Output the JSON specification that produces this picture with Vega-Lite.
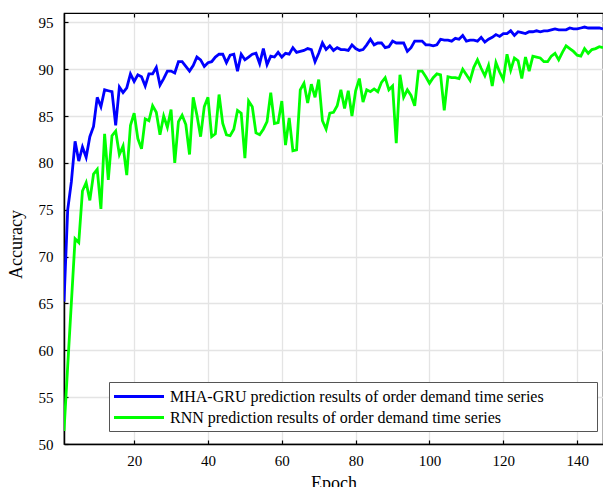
{
  "$schema": "https://vega.github.io/schema/vega-lite/v6.json",
  "width": 539,
  "height": 431,
  "autosize": {"type": "none"},
  "padding": {"left": 64, "top": 13, "right": 0, "bottom": 43},
  "background": "white",
  "config": {
    "font": "Liberation Serif",
    "view": {"stroke": "black", "strokeWidth": 1.2},
    "axis": {
      "domainColor": "black",
      "domainWidth": 1.5,
      "tickColor": "black",
      "tickWidth": 1.2,
      "tickSize": -4,
      "gridColor": "#e4e4e4",
      "gridWidth": 1.3,
      "labelFont": "Liberation Serif",
      "labelFontSize": 15,
      "labelColor": "black",
      "titleFont": "Liberation Serif",
      "titleFontSize": 18,
      "titleFontWeight": "normal",
      "titleColor": "black"
    }
  },
  "data": {
    "values": [
      {"e":1,"m":65.2,"r":51.4},{"e":2,"m":75.0,"r":58.3},{"e":3,"m":78.0,"r":65.1},{"e":4,"m":82.3,"r":71.9},{"e":5,"m":80.2,"r":71.5},
      {"e":6,"m":81.7,"r":77.0},{"e":7,"m":80.6,"r":77.9},{"e":8,"m":82.8,"r":76.0},{"e":9,"m":83.9,"r":78.8},{"e":10,"m":87.0,"r":79.3},
      {"e":11,"m":86.0,"r":75.1},{"e":12,"m":87.8,"r":83.1},{"e":13,"m":87.7,"r":78.2},{"e":14,"m":87.6,"r":82.9},{"e":15,"m":84.0,"r":83.4},
      {"e":16,"m":88.1,"r":80.9},{"e":17,"m":87.5,"r":81.8},{"e":18,"m":88.0,"r":78.7},{"e":19,"m":89.5,"r":84.0},{"e":20,"m":88.7,"r":85.3},
      {"e":21,"m":89.4,"r":82.6},{"e":22,"m":89.2,"r":81.5},{"e":23,"m":88.2,"r":84.7},{"e":24,"m":89.5,"r":84.5},{"e":25,"m":89.5,"r":86.1},
      {"e":26,"m":90.2,"r":85.4},{"e":27,"m":88.3,"r":83.0},{"e":28,"m":89.0,"r":85.0},{"e":29,"m":89.8,"r":83.8},{"e":30,"m":89.8,"r":85.7},
      {"e":31,"m":89.6,"r":80.0},{"e":32,"m":90.8,"r":84.4},{"e":33,"m":90.8,"r":85.1},{"e":34,"m":90.3,"r":84.1},{"e":35,"m":89.8,"r":80.9},
      {"e":36,"m":90.4,"r":87.0},{"e":37,"m":91.3,"r":85.1},{"e":38,"m":91.0,"r":82.8},{"e":39,"m":90.3,"r":86.0},{"e":40,"m":90.7,"r":87.0},
      {"e":41,"m":90.8,"r":82.8},{"e":42,"m":91.3,"r":83.1},{"e":43,"m":91.6,"r":87.3},{"e":44,"m":91.6,"r":84.2},{"e":45,"m":90.7,"r":83.0},
      {"e":46,"m":91.5,"r":82.9},{"e":47,"m":91.6,"r":83.6},{"e":48,"m":89.8,"r":85.6},{"e":49,"m":91.6,"r":85.3},{"e":50,"m":91.0,"r":80.5},
      {"e":51,"m":91.3,"r":86.6},{"e":52,"m":91.6,"r":86.0},{"e":53,"m":91.7,"r":83.2},{"e":54,"m":90.6,"r":83.0},{"e":55,"m":92.2,"r":83.6},
      {"e":56,"m":90.5,"r":84.4},{"e":57,"m":91.4,"r":87.5},{"e":58,"m":91.3,"r":84.2},{"e":59,"m":91.8,"r":84.3},{"e":60,"m":91.3,"r":86.6},
      {"e":61,"m":91.7,"r":81.9},{"e":62,"m":91.6,"r":84.8},{"e":63,"m":92.3,"r":81.3},{"e":64,"m":91.8,"r":81.4},{"e":65,"m":91.9,"r":87.8},
      {"e":66,"m":92.0,"r":88.5},{"e":67,"m":92.2,"r":86.4},{"e":68,"m":92.1,"r":88.4},{"e":69,"m":90.8,"r":87.0},{"e":70,"m":91.7,"r":88.9},
      {"e":71,"m":92.8,"r":84.5},{"e":72,"m":92.1,"r":83.6},{"e":73,"m":92.5,"r":85.3},{"e":74,"m":92.0,"r":85.4},{"e":75,"m":92.3,"r":86.1},
      {"e":76,"m":92.1,"r":87.8},{"e":77,"m":92.1,"r":85.8},{"e":78,"m":92.0,"r":87.7},{"e":79,"m":92.6,"r":85.0},{"e":80,"m":92.2,"r":87.7},
      {"e":81,"m":92.0,"r":89.0},{"e":82,"m":92.1,"r":86.5},{"e":83,"m":92.6,"r":87.8},{"e":84,"m":93.2,"r":87.6},{"e":85,"m":92.6,"r":87.9},
      {"e":86,"m":92.8,"r":87.6},{"e":87,"m":92.8,"r":88.6},{"e":88,"m":92.3,"r":89.1},{"e":89,"m":92.4,"r":87.8},{"e":90,"m":93.0,"r":88.2},
      {"e":91,"m":92.8,"r":82.1},{"e":92,"m":92.8,"r":89.4},{"e":93,"m":92.8,"r":87.0},{"e":94,"m":91.9,"r":87.8},{"e":95,"m":92.3,"r":87.2},
      {"e":96,"m":93.0,"r":86.1},{"e":97,"m":93.0,"r":89.8},{"e":98,"m":93.0,"r":89.8},{"e":99,"m":92.6,"r":89.2},{"e":100,"m":92.6,"r":88.5},
      {"e":101,"m":92.5,"r":89.1},{"e":102,"m":92.6,"r":89.5},{"e":103,"m":93.2,"r":89.4},{"e":104,"m":93.1,"r":85.6},{"e":105,"m":93.1,"r":89.2},
      {"e":106,"m":93.0,"r":89.1},{"e":107,"m":93.3,"r":89.1},{"e":108,"m":93.2,"r":89.0},{"e":109,"m":93.6,"r":90.0},{"e":110,"m":93.0,"r":89.4},
      {"e":111,"m":93.1,"r":88.8},{"e":112,"m":93.1,"r":90.2},{"e":113,"m":93.0,"r":91.0},{"e":114,"m":93.4,"r":90.1},{"e":115,"m":92.9,"r":89.3},
      {"e":116,"m":93.2,"r":90.4},{"e":117,"m":93.4,"r":88.2},{"e":118,"m":93.7,"r":90.7},{"e":119,"m":93.5,"r":89.7},{"e":120,"m":93.8,"r":88.9},
      {"e":121,"m":93.8,"r":91.6},{"e":122,"m":94.1,"r":89.9},{"e":123,"m":93.6,"r":91.2},{"e":124,"m":94.0,"r":90.9},{"e":125,"m":93.9,"r":89.0},
      {"e":126,"m":93.8,"r":91.3},{"e":127,"m":94.0,"r":89.8},{"e":128,"m":94.0,"r":91.4},{"e":129,"m":94.1,"r":91.3},{"e":130,"m":94.0,"r":91.2},
      {"e":131,"m":94.1,"r":90.8},{"e":132,"m":94.1,"r":90.8},{"e":133,"m":94.2,"r":91.4},{"e":134,"m":94.3,"r":91.7},{"e":135,"m":94.2,"r":91.0},
      {"e":136,"m":94.2,"r":91.8},{"e":137,"m":94.2,"r":92.5},{"e":138,"m":94.4,"r":92.2},{"e":139,"m":94.3,"r":91.9},{"e":140,"m":94.3,"r":91.5},
      {"e":141,"m":94.4,"r":91.4},{"e":142,"m":94.5,"r":92.2},{"e":143,"m":94.4,"r":91.7},{"e":144,"m":94.4,"r":92.1},{"e":145,"m":94.4,"r":92.2},
      {"e":146,"m":94.4,"r":92.4},{"e":147,"m":94.3,"r":92.3}
    ]
  },
  "transform": [{"fold": ["m", "r"], "as": ["s", "v"]}],
  "resolve": {"axis": {"x": "independent"}},
  "layer": [
    {
      "mark": {"type": "line", "strokeWidth": 2.8, "clip": true},
      "encoding": {
        "x": {
          "field": "e", "type": "quantitative",
          "scale": {"domain": [1, 147], "nice": false, "zero": false},
          "axis": {"values": [20, 40, 60, 80, 100, 120, 140], "title": "Epoch", "labelPadding": 13, "titlePadding": 6, "labelFlush": false}
        },
        "y": {
          "field": "v", "type": "quantitative",
          "scale": {"domain": [50, 96], "nice": false, "zero": false},
          "axis": {"values": [50, 55, 60, 65, 70, 75, 80, 85, 90, 95], "title": "Accuracy", "labelPadding": 15, "titleX": -39, "titleY": 231, "titleBaseline": "bottom", "titleAngle": -90, "labelFlush": false}
        },
        "color": {
          "field": "s", "type": "nominal",
          "scale": {"domain": ["m", "r"], "range": ["#0000FF", "#00FF00"]},
          "legend": {
            "title": " ",
            "titleOrient": "right",
            "titlePadding": 48,
            "titleFontSize": 10,
            "orient": "none",
            "legendX": 45,
            "legendY": 369,
            "fillColor": "white",
            "strokeColor": "#555555",
            "padding": 5,
            "cornerRadius": 0,
            "symbolType": "M-3.125,0H3.125",
            "symbolSize": 256,
            "symbolStrokeWidth": 3,
            "symbolOffset": 15.5,
            "labelOffset": 21.5,
            "rowPadding": 3,
            "labelFont": "Liberation Serif",
            "labelFontSize": 16,
            "labelColor": "black",
            "labelLimit": 600,
            "labelExpr": "datum.label == 'm' ? 'MHA-GRU prediction results of order demand time series' : 'RNN prediction results of order demand time series'"
          }
        }
      }
    },
    {
      "mark": {"type": "point", "opacity": 0},
      "encoding": {
        "x": {
          "field": "e", "type": "quantitative",
          "axis": {"orient": "top", "values": [20, 40, 60, 80, 100, 120, 140], "labels": false, "grid": false, "domain": false, "title": null}
        },
        "y": {"field": "v", "type": "quantitative"}
      }
    }
  ]
}
